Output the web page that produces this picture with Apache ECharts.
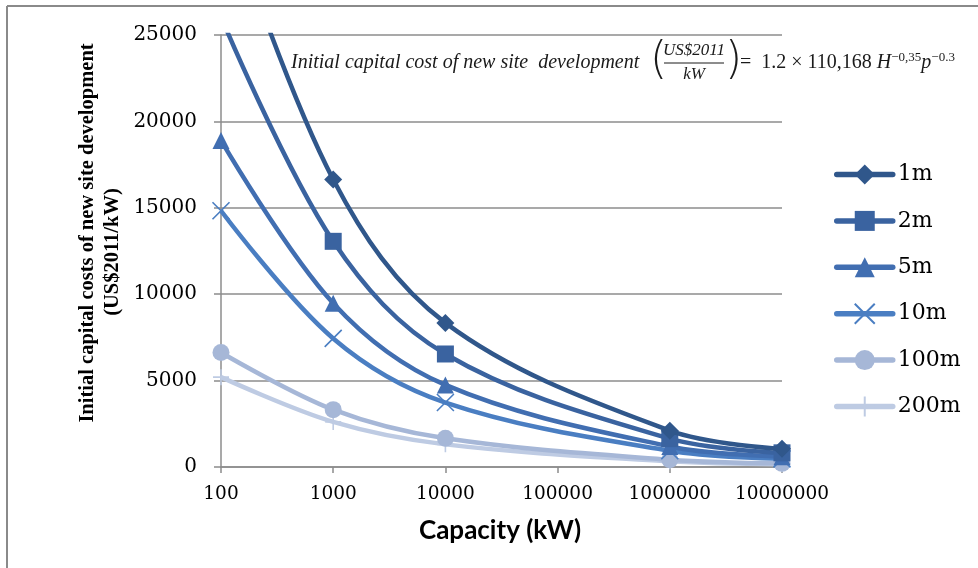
<!DOCTYPE html>
<html>
<head>
<meta charset="utf-8">
<script src="https://cdn.jsdelivr.net/npm/echarts@6/dist/echarts.min.js"></script>
<style>
html,body{margin:0;padding:0;background:#fff;}
#main{width:978px;height:568px;}
</style>
</head>
<body>
<div id="main"></div>
<script>
// Capacity values (kW) where the points are drawn
var capacity = [100, 1000, 10000, 1000000, 10000000];
// Initial capital cost (US$2011/kW), per head
var seriesNames = ['1m', '2m', '5m', '10m', '100m', '200m'];
var cost1m   = [33200, 16640, 8340, 2100, 1050];
var cost2m   = [26050, 13060, 6540, 1640, 820];
var cost5m   = [18900, 9480, 4750, 1190, 600];
var cost10m  = [14830, 7440, 3730, 940, 470];
var cost100m = [6630, 3320, 1660, 420, 210];
var cost200m = [5200, 2610, 1310, 330, 160];
var xTicks = [100, 1000, 10000, 100000, 1000000, 10000000];
var yTicks = [0, 5000, 10000, 15000, 20000, 25000];

var allCosts = [cost1m, cost2m, cost5m, cost10m, cost100m, cost200m];
var colors = ['#30578B', '#3A63A0', '#416EB1', '#4A7EC2', '#A6B7D7', '#BECBE3'];
var symbols = ['diamond', 'rect', 'triangle', 'path://M0,0L10,10M10,0L0,10', 'circle', 'path://M5,0L5,10M0,5L10,5'];
var symbolSizes = [18, 17, 17, 17, 17, 16];

var chart = echarts.init(document.getElementById('main'), null, {renderer: 'canvas'});

var series = seriesNames.map(function (name, i) {
  var stroked = symbols[i].indexOf('path://') === 0;
  return {
    name: name,
    type: 'line',
    data: capacity.map(function (c, j) { return [c, allCosts[i][j]]; }),
    smooth: 0.35,
    clip: true,
    symbol: symbols[i],
    symbolSize: symbolSizes[i],
    showSymbol: true,
    lineStyle: { color: colors[i], width: 4.5 },
    itemStyle: stroked
      ? { color: colors[i], borderColor: colors[i], borderWidth: 1.6 }
      : { color: colors[i], borderWidth: 0 },
    emphasis: { disabled: true },
    z: 10 - i
  };
});

var serif = "'Liberation Serif', 'DejaVu Serif', serif";
var dserif = "'DejaVu Serif', serif";

chart.setOption({
  animation: false,
  backgroundColor: '#ffffff',
  grid: { left: 221, right: 196, top: 35, bottom: 101, containLabel: false },
  xAxis: {
    type: 'log',
    logBase: 10,
    min: xTicks[0],
    max: xTicks[xTicks.length - 1],
    axisLine: { show: true, lineStyle: { color: '#8c8c8c', width: 1.5 } },
    axisTick: { show: true, inside: false, length: 6, lineStyle: { color: '#8c8c8c', width: 1.5 } },
    splitLine: { show: false },
    minorTick: { show: false },
    axisLabel: {
      margin: 18,
      color: '#000',
      fontFamily: dserif,
      fontSize: 18.5,
      formatter: function (v) { return String(Math.round(v)); }
    }
  },
  yAxis: {
    type: 'value',
    min: yTicks[0],
    max: yTicks[yTicks.length - 1],
    interval: yTicks[1] - yTicks[0],
    axisLine: { show: true, lineStyle: { color: '#8c8c8c', width: 1.5 } },
    axisTick: { show: true, inside: false, length: 7, lineStyle: { color: '#8c8c8c', width: 1.5 } },
    splitLine: { show: true, lineStyle: { color: '#8c8c8c', width: 1.5 } },
    axisLabel: {
      margin: 24,
      color: '#000',
      fontFamily: dserif,
      fontSize: 20,
      formatter: function (v) { return String(v); }
    }
  },
  legend: {
    orient: 'vertical',
    left: 829,
    top: 158.5,
    itemWidth: 56,
    itemHeight: 25,
    itemGap: 24.4,
    data: seriesNames,
    lineStyle: { width: 5.5, cap: 'round' },
    textStyle: { color: '#000', fontFamily: dserif, fontSize: 22, lineHeight: 22 },
    selectedMode: false
  },
  series: series,
  graphic: [
    { type: 'line', silent: true, shape: { x1: 7, y1: 6, x2: 978, y2: 6 }, style: { stroke: '#8a8a8a', lineWidth: 2 } },
    { type: 'line', silent: true, shape: { x1: 7, y1: 6, x2: 7, y2: 568 }, style: { stroke: '#8a8a8a', lineWidth: 2 } },
    { type: 'text', x: 500, y: 531, silent: true,
      style: { text: 'Capacity (kW)', fill: '#000', font: "bold 26px 'Lato', 'Open Sans', sans-serif", align: 'center', verticalAlign: 'middle' } },
    { type: 'text', x: 88, y: 233, rotation: Math.PI / 2, silent: true,
      style: { text: 'Initial capital costs of new site development', fill: '#000', font: "bold 20.5px " + serif, align: 'center', verticalAlign: 'middle' } },
    { type: 'text', x: 113, y: 252, rotation: Math.PI / 2, silent: true,
      style: { text: '(US$2011/kW)', fill: '#000', font: "bold 20.5px " + serif, align: 'center', verticalAlign: 'middle' } },
    { type: 'text', x: 291, y: 63, silent: true, z: 100,
      style: { text: 'Initial capital cost of new site  development', fill: '#1a1a1a', font: "italic 20px " + serif, align: 'left', verticalAlign: 'middle' } },
    { type: 'text', x: 650, y: 62, silent: true, z: 100,
      style: { text: '(', fill: '#1a1a1a', font: "300 44px 'DejaVu Sans', sans-serif", align: 'left', verticalAlign: 'middle' } },
    { type: 'text', x: 694, y: 51, silent: true, z: 100,
      style: { text: 'US$2011', fill: '#1a1a1a', font: "italic 17px " + serif, align: 'center', verticalAlign: 'middle' } },
    { type: 'line', silent: true, z: 100, shape: { x1: 664, y1: 63, x2: 724, y2: 63 }, style: { stroke: '#1a1a1a', lineWidth: 1 } },
    { type: 'text', x: 694, y: 75, silent: true, z: 100,
      style: { text: 'kW', fill: '#1a1a1a', font: "italic 17px " + serif, align: 'center', verticalAlign: 'middle' } },
    { type: 'text', x: 725, y: 62, silent: true, z: 100,
      style: { text: ')', fill: '#1a1a1a', font: "300 44px 'DejaVu Sans', sans-serif", align: 'left', verticalAlign: 'middle' } },
    { type: 'text', x: 740, y: 63, silent: true, z: 100,
      style: {
        text: '{n|=  1.2 × 110,168 }{i|H}{s|−0,35}{i|p}{s|−0.3}',
        align: 'left', verticalAlign: 'middle',
        rich: {
          n: { fill: '#1a1a1a', fontFamily: serif, fontSize: 20, lineHeight: 24 },
          i: { fill: '#1a1a1a', fontFamily: serif, fontStyle: 'italic', fontSize: 20, lineHeight: 24 },
          s: { fill: '#1a1a1a', fontFamily: serif, fontSize: 13, lineHeight: 14, verticalAlign: 'top' }
        }
      } }
  ]
});
</script>
</body>
</html>
